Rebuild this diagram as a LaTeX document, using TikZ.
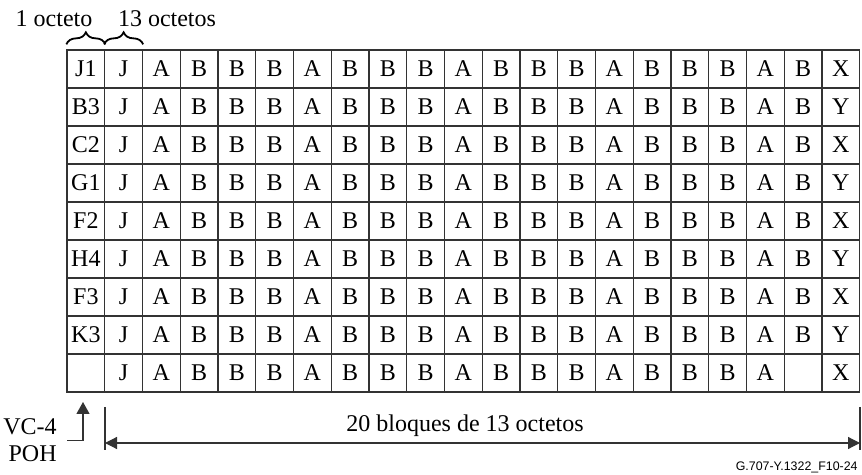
\documentclass[tikz,border=0pt]{standalone}
\usepackage{fontspec}
\setmainfont{Liberation Serif}
\setsansfont{Liberation Sans}
\usetikzlibrary{positioning, decorations.pathreplacing, arrows.meta}

\begin{document}
\begin{tikzpicture}[x=0.5pt, y=-0.5pt]
    % Define styles
    \tikzstyle{cell} = [rectangle, draw=black!80, line width=0.65pt, minimum width=18.875pt, minimum height=19pt, inner sep=0pt, font=\fontsize{12}{12}\selectfont]
    \tikzstyle{textlbl} = [inner sep=0pt, font=\fontsize{12}{13.5}\selectfont]
    \tikzstyle{brace} = [decorate, decoration={brace, amplitude=6pt}, line width=0.9pt]
    \tikzstyle{arrow} = [line width=0.6pt, draw=black!80, -{Triangle[length=6pt, width=6.5pt]}]
    \tikzstyle{span} = [line width=0.6pt, draw=black!80, {Triangle[length=6pt, width=6pt]}-{Triangle[length=6pt, width=6pt]}]

    \useasboundingbox (0,0) rectangle (862,475);

    % Nodes
    \foreach \lead/\last/\pen [count=\r from 0] in {J1/X/B, B3/Y/B, C2/X/B, G1/Y/B, F2/X/B, H4/Y/B, F3/X/B, K3/Y/B, {}/X/{}} {
        \foreach \sym [count=\c from 0] in {\lead, J, A, B, B, B, A, B, B, B, A, B, B, B, A, B, B, B, A, \pen, \last} {
            \node (c-\r-\c) [cell] at ({67+37.75*(\c+0.5)}, {50+38*(\r+0.5)}) {\sym};
        }
    }
    \node (one) [textlbl] at (54,19) {1 octeto};
    \node (thirteen) [textlbl] at (167,19) {13 octetos};
    \node (poh) [textlbl, align=right, anchor=east] at (57,440.5) {VC-4\\POH};
    \node (blocks) [textlbl] at (465,426) {20 bloques de 13 octetos};
    \node (fig) [inner sep=0pt, anchor=east, font=\sffamily\fontsize{6.2}{7}\selectfont] at (858,467) {G.707-Y.1322\_F10-24};

    \coordinate (pohtip) at (83,402);
    \coordinate (spanL) at (105,443);
    \coordinate (spanR) at (860,443);

    % Braces
    \draw [brace] ([yshift=2.5pt]c-0-0.north west) -- ([yshift=2.5pt]c-0-0.north east);
    \draw [brace] ([yshift=2.5pt]c-0-1.north west) -- ([yshift=2.5pt]c-0-1.north east);

    % Arrows
    \draw [arrow] ([xshift=5pt]poh.east) -| (pohtip);
    \draw [line width=0.6pt, draw=black!80] ([yshift=18pt]spanL) -- ([yshift=-3.5pt]spanL);
    \draw [line width=0.6pt, draw=black!80] ([yshift=18pt]spanR) -- ([yshift=-3.5pt]spanR);
    \draw [span] (spanL) -- (spanR);
\end{tikzpicture}
\end{document}
